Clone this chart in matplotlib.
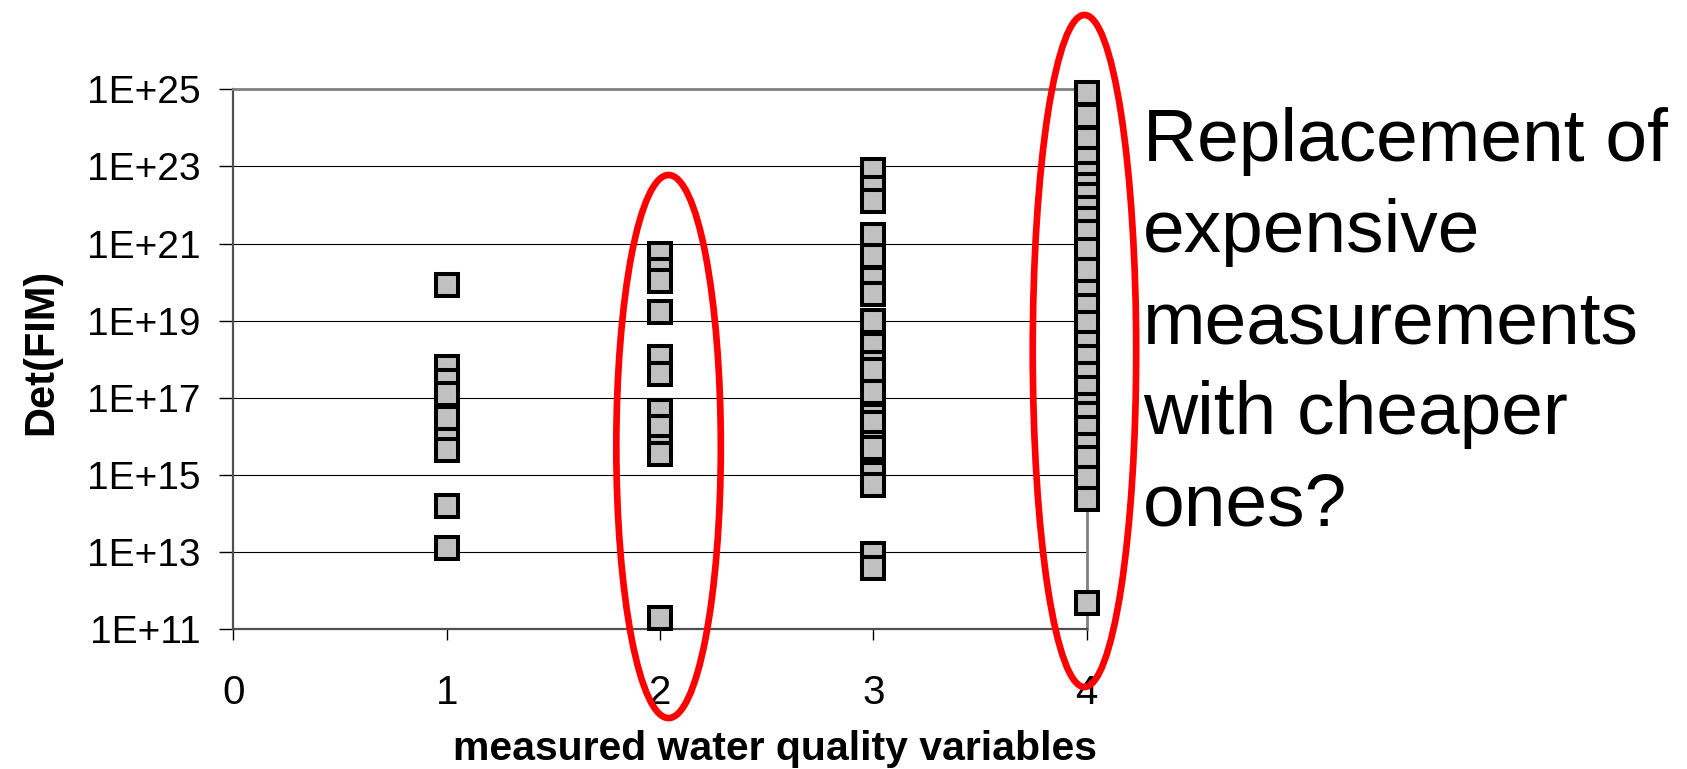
import numpy as np
import matplotlib
matplotlib.use("Agg")
import matplotlib.pyplot as plt
from matplotlib.patches import Ellipse
from matplotlib import transforms
from matplotlib.ticker import NullLocator, FixedLocator, FixedFormatter

plt.rcParams['font.family'] = ['Liberation Sans', 'DejaVu Sans']

# Number of measured water quality variables (x categories)
n_vars = [1, 2, 3, 4]

# log10(Det(FIM)) of every candidate measurement set, grouped by set size
exp_1var = [19.93, 17.81, 17.43, 17.10, 16.49, 15.92, 15.64, 14.20, 13.10]
exp_2var = [20.74, 20.31, 20.03, 19.23, 18.05, 17.62, 16.66, 16.25, 15.74,
            15.55, 11.30]
exp_3var = [22.90, 22.43, 22.10, 21.23, 20.69, 20.08, 19.70, 18.99, 18.38,
            17.91, 17.72, 17.15, 16.54, 16.35, 15.83, 15.69, 15.03, 14.75,
            12.95, 12.58]
exp_4var = [24.91, 24.32, 23.71, 23.19, 22.81, 22.53, 22.25, 21.92, 21.63,
            21.30, 20.83, 20.31, 19.75, 19.37, 18.94, 18.42, 18.05, 17.62,
            17.25, 16.82, 16.58, 16.21, 15.78, 15.45, 14.93, 14.37, 11.68]

x_ticks = [0, 1, 2, 3, 4]
y_ticks = [1e11, 1e13, 1e15, 1e17, 1e19, 1e21, 1e23, 1e25]
y_tick_labels = ['1E+11', '1E+13', '1E+15', '1E+17', '1E+19', '1E+21',
                 '1E+23', '1E+25']

fig = plt.figure(figsize=(16.87, 7.69), dpi=100)
ax = fig.add_axes([0.1384, 0.1815, 0.5057, 0.7024])
ax.set_yscale('log')
ax.set_xlim(0, 4)
ax.set_ylim(y_ticks[0], y_ticks[-1])

for n, exps in zip(n_vars, [exp_1var, exp_2var, exp_3var, exp_4var]):
    y = 10.0 ** np.asarray(exps)
    ax.plot(np.full(len(y), n), y, ls='none', marker='s', ms=16.1,
            mfc='#c0c0c0', mec='black', mew=2.9, clip_on=False, zorder=5)

# Axes, ticks and grid
ax.yaxis.set_major_locator(FixedLocator(y_ticks))
ax.yaxis.set_major_formatter(FixedFormatter(y_tick_labels))
ax.yaxis.set_minor_locator(NullLocator())
ax.set_xticks(x_ticks)
ax.set_xticklabels([str(t) for t in x_ticks])
ax.yaxis.grid(True, color='black', lw=0.8)
ax.set_axisbelow(True)

for side in ['top', 'right']:
    ax.spines[side].set_color('#808080')
    ax.spines[side].set_linewidth(2)
for side in ['left', 'bottom']:
    ax.spines[side].set_color('#505050')
    ax.spines[side].set_linewidth(1.6)

ax.tick_params(axis='y', direction='out', length=10, width=1, pad=14,
               labelsize=28, color='black')
ax.tick_params(axis='x', direction='out', length=8, width=1, pad=24,
               labelsize=29, color='black')

ax.set_xlabel('measured water quality variables', fontsize=29.5,
              fontweight='bold')
ax.xaxis.set_label_coords(0.635, -0.2418)
ax.xaxis.label.set_va('baseline')

ax.set_ylabel('Det(FIM)', fontsize=30, fontweight='bold')
ax.yaxis.set_label_coords(-0.2256, 0.5136)
ax.yaxis.label.set_va('center')

# Red rings around the 2- and 4-variable columns
ring_tr = transforms.blended_transform_factory(ax.transData, ax.transAxes)
for cx, cy, w, h in [(2.04, 0.3386, 0.49, 1.0054),
                     (3.99, 0.5155, 0.485, 1.2442)]:
    ax.add_patch(Ellipse((cx, cy), w, h, transform=ring_tr, fill=False,
                         ec='#ff0000', lw=4.8, clip_on=False, zorder=6))

fig.text(1143 / 1687, 0.861,
         "Replacement of\nexpensive\nmeasurements\nwith cheaper\nones?",
         fontsize=54, ha='left', va='top', linespacing=1.41)

fig.savefig('out.png', dpi=100)
